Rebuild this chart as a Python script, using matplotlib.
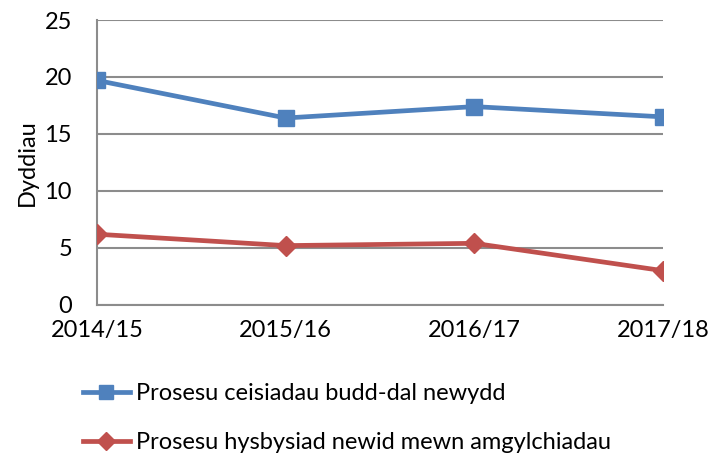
import matplotlib.pyplot as plt
from matplotlib.lines import Line2D

# chart data
years = ['2014/15', '2015/16', '2016/17', '2017/18']
claims_new = [19.7, 16.4, 17.4, 16.5]
change_circ = [6.2, 5.2, 5.4, 3.0]
series_names = ['Prosesu ceisiadau budd-dal newydd',
                'Prosesu hysbysiad newid mewn amgylchiadau']

plt.rcParams['font.family'] = ['Lato', 'DejaVu Sans']

blue = '#4F81BD'
red = '#C0504D'
grid_col = '#8C8C8C'

fig = plt.figure(figsize=(7.21, 4.55), dpi=100)
ax = fig.add_axes([0.1345, 0.33, 0.785, 0.626])

x = range(len(years))
ax.plot(x, claims_new, color=blue, lw=3.4, marker='s', markersize=11, zorder=3)
ax.plot(x, change_circ, color=red, lw=3.4, marker='D', markersize=10, zorder=3)

ax.set_xlim(0, len(years) - 1)
ax.set_ylim(0, 25)
ax.set_yticks([0, 5, 10, 15, 20, 25])
ax.set_xticks(list(x))
ax.set_xticklabels(years)
ax.tick_params(axis='both', labelsize=17, length=0)
ax.tick_params(axis='x', pad=11)
ax.tick_params(axis='y', pad=18)
ax.set_ylabel('Dyddiau', fontsize=17, labelpad=5)

ax.yaxis.grid(True, color=grid_col, lw=1.5)
ax.set_axisbelow(True)
for s in ['top', 'right']:
    ax.spines[s].set_visible(False)
for s in ['left', 'bottom']:
    ax.spines[s].set_color(grid_col)
    ax.spines[s].set_linewidth(1.5)
ax.spines['bottom'].set_zorder(2)

handles = [Line2D([], [], color=blue, lw=3.4, marker='s', markersize=10),
           Line2D([], [], color=red, lw=3.4, marker='D', markersize=9)]
fig.legend(handles, series_names, loc='upper left', bbox_to_anchor=(0.092, 0.195),
           frameon=False, fontsize=17, handlelength=2.0, handletextpad=0.25,
           labelspacing=1.2, borderpad=0.2)

fig.savefig('out.png', dpi=100)
